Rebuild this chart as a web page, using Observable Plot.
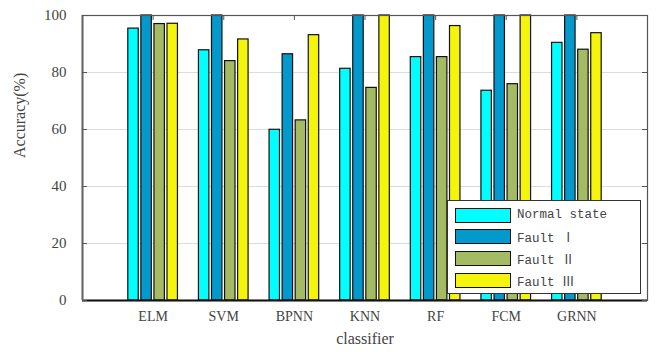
<!DOCTYPE html>
<html><head><meta charset="utf-8">
<script src="https://cdn.jsdelivr.net/npm/d3@7"></script>
<script src="https://cdn.jsdelivr.net/npm/@observablehq/plot@0.6"></script>
<style>
body{margin:0;background:#fff;}
#wrap{position:relative;width:656px;height:354px;font-family:"Liberation Serif",serif;}
#wrap svg text{font-family:"Liberation Serif",serif;font-variant:normal;}
#legend{position:absolute;left:447px;top:200px;width:192px;height:92px;border:1px solid #333;background:#fff;box-sizing:content-box;}
.row{position:absolute;left:7px;height:16px;display:flex;align-items:center;}
.sw{width:54px;height:13px;border:1.5px solid #111;}
.lt{margin-left:6px;font-family:"Liberation Mono","Noto Sans CJK SC",monospace;font-size:12.5px;color:#444;white-space:pre;}
</style></head>
<body><div id="wrap"></div>
<script>
const categories = ["ELM","SVM","BPNN","KNN","RF","FCM","GRNN"];
const seriesNames = ["Normal state","Fault Ⅰ","Fault Ⅱ","Fault Ⅲ"];
const normalState = [95.4, 87.8, 59.9, 81.3, 85.4, 73.6, 90.4];
const fault1 = [100, 100, 86.4, 100, 100, 100, 100];
const fault2 = [97.0, 84.0, 63.2, 74.6, 85.4, 75.9, 88.0];
const fault3 = [97.1, 91.6, 93.1, 100, 96.3, 100, 93.8];
const colors = ["#00FFFF","#0499CC","#A4BB64","#F5F50C"];
const yTicks = [0,20,40,60,80,100];
const gridTicks = [20,40,60,80];

const seriesValues = [normalState, fault1, fault2, fault3];
const step = 0.185, bw = 0.148;
const data = [];
categories.forEach((c, i) => {
  seriesValues.forEach((vals, j) => {
    const center = i + 1 + (j - 1.5) * step;
    data.push({cat: c, series: seriesNames[j], value: vals[i], x1: center - bw/2, x2: center + bw/2});
  });
});
const catPos = categories.map((c, i) => i + 1);

const W = 656, H = 354, mL = 82, mR = 9, mT = 15, mB = 54;
const fw = W - mL - mR, fh = H - mT - mB;

const chart = Plot.plot({
  width: W, height: H,
  marginLeft: mL, marginRight: mR, marginTop: mT, marginBottom: mB,
  style: {fontFamily: "Liberation Serif, serif", fontSize: "14px", color: "#444", background: "#fff"},
  x: {domain: [0, 8], axis: null},
  y: {domain: [0, 100], axis: null},
  color: {domain: seriesNames, range: colors},
  marks: [
    Plot.ruleY(gridTicks, {stroke: "#dcdcdc", strokeWidth: 1}),
    Plot.rectY(data, {x1: "x1", x2: "x2", y: "value", fill: "series", stroke: "#111", strokeWidth: 1.2}),
    Plot.frame({stroke: "#555", strokeWidth: 1.2}),
    Plot.ruleY([0], {stroke: "#111", strokeWidth: 2}),
    Plot.ruleX([0], {stroke: "#666", strokeWidth: 2}),
    Plot.tickY(yTicks, {stroke: "#555", insetRight: fw - 5}),
    Plot.tickY(yTicks, {stroke: "#555", insetLeft: fw - 5}),
    Plot.tickX(catPos, {stroke: "#555", insetBottom: fh - 5}),
    Plot.axisY(yTicks, {tickSize: 0, tickPadding: 16, label: null, fontSize: 15, fontVariant: "normal"}),
    Plot.axisX(catPos, {tickSize: 0, tickPadding: 11, tickFormat: d => categories[d - 1], label: null, fontSize: 14, fontVariant: "normal"}),
    Plot.text(["classifier"], {frameAnchor: "bottom", dy: 43, fontSize: 16}),
    Plot.text(["Accuracy(%)"], {frameAnchor: "left", dx: -63, rotate: -90, fontSize: 16})
  ]
});
const wrap = document.getElementById("wrap");
wrap.appendChild(chart);

const legend = document.createElement("div");
legend.id = "legend";
seriesNames.forEach((s, j) => {
  const row = document.createElement("div");
  row.className = "row";
  row.style.top = (6 + j * 21.8) + "px";
  row.innerHTML = `<div class="sw" style="background:${colors[j]}"></div><span class="lt">${s}</span>`;
  legend.appendChild(row);
});
wrap.appendChild(legend);
</script></body></html>
